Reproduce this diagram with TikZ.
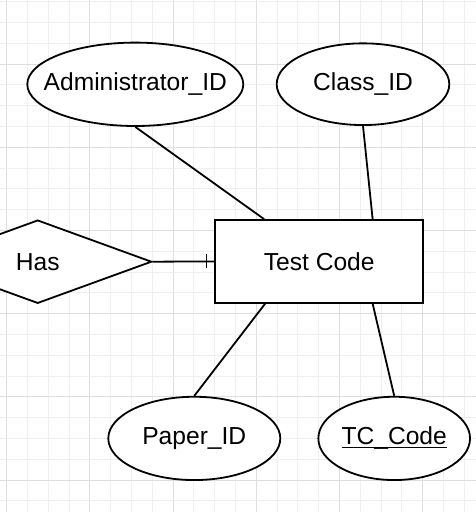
\documentclass[tikz,border=0pt]{standalone}
\usepackage{fontspec}
\setmainfont{Liberation Sans}
\usetikzlibrary{shapes.geometric}
\newlength\myulw
\newcommand\myul[1]{\settowidth{\myulw}{#1}\rlap{\rule[-3.4pt]{\myulw}{1.6pt}}#1}
\newcommand\lbl[1]{\makebox[0pt]{\raisebox{-1.8pt}{#1}}}
\begin{document}
\begin{tikzpicture}[x=1pt,y=-1pt,
  attr/.style={ellipse,draw=black,fill=white,line width=1.8pt,inner sep=0pt,font=\fontsize{24.6}{28}\selectfont},
  entity/.style={rectangle,draw=black,fill=white,line width=1.8pt,inner sep=0pt,font=\fontsize{24.6}{28}\selectfont},
  rel/.style={diamond,draw=black,fill=white,line width=1.8pt,inner sep=0pt,font=\fontsize{24.6}{28}\selectfont},
  conn/.style={draw=black,line width=1.8pt},
  minorgrid/.style={draw={rgb,255:red,239;green,239;blue,239},line width=0.9pt},
  majorgrid/.style={draw={rgb,255:red,222;green,222;blue,222},line width=0.9pt}]
\useasboundingbox (0,0) rectangle (476,512);
\fill[white] (0,0) rectangle (476,512);
% grid
\foreach \k in {0,...,22} {
  \pgfmathsetmacro{\gx}{6.7+20.8*\k}
  \pgfmathtruncatemacro{\m}{mod(\k,4)}
  \ifnum\m=0 \draw[majorgrid] (\gx,0) -- (\gx,512); \else \draw[minorgrid] (\gx,0) -- (\gx,512); \fi
}
\foreach \k in {-3,...,21} {
  \pgfmathsetmacro{\gy}{64+20.8*\k}
  \pgfmathtruncatemacro{\m}{mod(\k+8,4)}
  \ifnum\m=0 \draw[majorgrid] (0,\gy) -- (476,\gy); \else \draw[minorgrid] (0,\gy) -- (476,\gy); \fi
}
\node[entity,minimum width=208.3pt,minimum height=82.7pt] (tc) at (319.2,261.4) {\lbl{Test Code}};
\node[attr,minimum width=216pt,minimum height=83.4pt] (admin) at (135.3,84.3) {\lbl{Administrator\_ID}};
\node[attr,minimum width=172.6pt,minimum height=81.7pt] (cls) at (363,84.2) {\lbl{Class\_ID}};
\node[attr,minimum width=172pt,minimum height=83.3pt] (paper) at (194.3,438.4) {\lbl{Paper\_ID}};
\node[attr,minimum width=151.7pt,minimum height=83.3pt] (tcc) at (394.2,438.4) {\lbl{\myul{TC\_Code}}};
\node[rel,minimum width=228pt,minimum height=83.3pt] (has) at (37.7,261.7) {\lbl{Has}};
\draw[conn] (admin.south) -- ([xshift=50pt]tc.north west);
\draw[conn] (cls.south) -- ([xshift=-51.6pt]tc.north east);
\draw[conn] ([xshift=51pt]tc.south west) -- (paper.north);
\draw[conn] ([xshift=-51.6pt]tc.south east) -- (tcc.north);
\draw[conn] (has.east) -- (tc.west);
\draw[conn] ([xshift=-7.7pt,yshift=-7pt]tc.west) -- ([xshift=-7.7pt,yshift=7pt]tc.west);
\end{tikzpicture}
\end{document}
